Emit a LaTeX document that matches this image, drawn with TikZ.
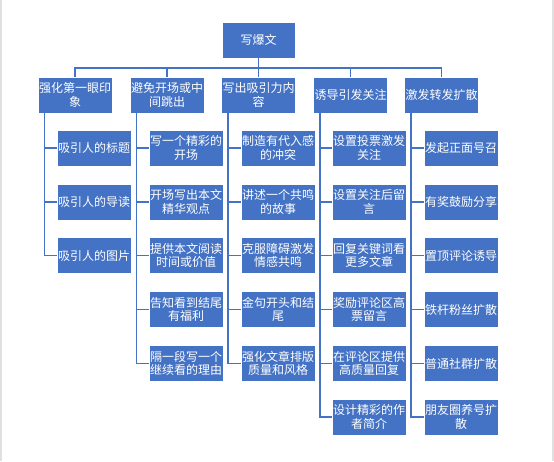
\documentclass[tikz,border=0pt]{standalone}
\usepackage{fontspec}
\setmainfont{Noto Sans CJK SC}
\definecolor{boxblue}{HTML}{4472C4}
\tikzset{
  box/.style={fill=boxblue, draw=white, line width=0.8pt, text=white,
    text width=74pt, minimum width=74pt, minimum height=36pt, inner sep=0pt,
    align=center, font=\fontsize{12}{13.5}\selectfont},
  link/.style={draw=boxblue, line width=1.6pt}
}
\begin{document}
\begin{tikzpicture}[x=1pt,y=-1pt]
\useasboundingbox (0,0) rectangle (554,461);
\draw[black!12, line width=2pt] (1,0) -- (1,461);
\draw[black!12, line width=2pt] (553,0) -- (553,461);
% root
\node[box, text width=73pt, minimum width=73pt] (root) at (258.5,40) {写爆文};
% level 1
\node[box] (p1) at (75,95) {强化第一眼印\\象};
\node[box] (p2) at (167,95) {避免开场或中\\间跳出};
\node[box] (p3) at (258.5,95) {写出吸引力内\\容};
\node[box] (p4) at (350.5,95) {诱导引发关注};
\node[box] (p5) at (441.5,95) {激发转发扩散};
% column 1
\node[box] (c11) at (94,148) {吸引人的标题};
\node[box] (c12) at (94,202) {吸引人的导读};
\node[box] (c13) at (94,255.5) {吸引人的图片};
% column 2
\node[box] (c21) at (186,148) {写一个精彩的\\开场};
\node[box] (c22) at (186,202) {开场写出本文\\精华观点};
\node[box] (c23) at (186,255.5) {提供本文阅读\\时间或价值};
\node[box] (c24) at (186,309.5) {告知看到结尾\\有福利};
\node[box] (c25) at (186,363.5) {隔一段写一个\\继续看的理由};
% column 3
\node[box] (c31) at (278,148) {制造有代入感\\的冲突};
\node[box] (c32) at (278,202) {讲述一个共鸣\\的故事};
\node[box] (c33) at (278,255.5) {克服障碍激发\\情感共鸣};
\node[box] (c34) at (278,309.5) {金句开头和结\\尾};
\node[box] (c35) at (278,363.5) {强化文章排版\\质量和风格};
% column 4
\node[box] (c41) at (369,148) {设置投票激发\\关注};
\node[box] (c42) at (369,202) {设置关注后留\\言};
\node[box] (c43) at (369,255.5) {回复关键词看\\更多文章};
\node[box] (c44) at (369,309.5) {奖励评论区高\\票留言};
\node[box] (c45) at (369,363.5) {在评论区提供\\高质量回复};
\node[box] (c46) at (369,417) {设计精彩的作\\者简介};
% column 5
\node[box] (c51) at (461,148) {发起正面号召};
\node[box] (c52) at (461,202) {有奖鼓励分享};
\node[box] (c53) at (461,255.5) {置顶评论诱导};
\node[box] (c54) at (461,309.5) {铁杆粉丝扩散};
\node[box] (c55) at (461,363.5) {普通社群扩散};
\node[box] (c56) at (461,417) {朋友圈养号扩\\散};
% bus
\coordinate (bus) at (258.5,68);
\foreach \p in {p1,p2,p3,p4,p5}
  \draw[link] (root.south) -- (root.south |- bus) -| (\p.north);
% vertical lines
\foreach \p in {p1,p2,p3,p4,p5}{
  \coordinate (\p l) at ([xshift=7pt]\p.south west);
}
\foreach \i in {1,2,3} \draw[link] (p1l) |- (c1\i.west);
\foreach \i in {1,...,5} \draw[link] (p2l) |- (c2\i.west);
\foreach \i in {1,...,5} \draw[link] (p3l) |- (c3\i.west);
\foreach \i in {1,...,6} \draw[link] (p4l) |- (c4\i.west);
\foreach \i in {1,...,6} \draw[link] (p5l) |- (c5\i.west);
\end{tikzpicture}
\end{document}
